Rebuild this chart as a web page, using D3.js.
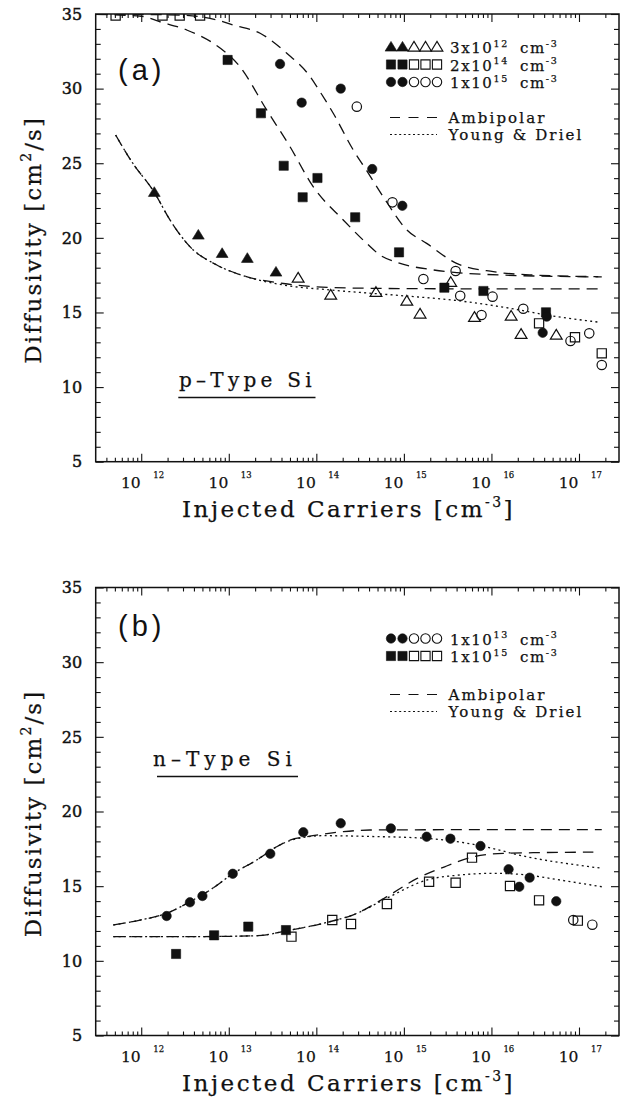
<!DOCTYPE html>
<html>
<head>
<meta charset="utf-8">
<title>Diffusivity vs. injected carriers in Si</title>
<script src="https://cdn.jsdelivr.net/npm/d3@7/dist/d3.min.js"></script>
<style>
  html, body { margin: 0; padding: 0; background: #fff; }
  svg { display: block; }
  text { font-family: "DejaVu Serif", serif; fill: #111; stroke: #111; stroke-width: 0.25px; }
</style>
</head>
<body>
<svg id="chart" width="623" height="1099"></svg>
<script>
// ---------------- data: [injected carriers cm^-3, diffusivity cm^2/s] ----------------
const xTickExponents = [12, 13, 14, 15, 16, 17];
const yTickValues = [5, 10, 15, 20, 25, 30, 35];

// (a) p-type Si, doping 3e12 (triangles), 2e14 (squares), 1e15 (circles)
const aTriFilled = [[1.41e12, 23.05], [4.49e12, 20.19], [8.4e12, 18.96], [1.63e13, 18.63], [3.46e13, 17.71]];
const aTriOpen = [[6.2e13, 17.31], [1.46e14, 16.17], [4.8e14, 16.35], [1.08e15, 15.77], [1.53e15, 14.90],
  [3.43e15, 17.02], [6.4e15, 14.68], [1.68e16, 14.76], [2.18e16, 13.54], [5.5e16, 13.49]];
const aSqFilled = [[9.7e12, 31.92], [2.33e13, 28.35], [4.24e13, 24.83], [6.98e13, 22.72], [1.03e14, 24.01],
  [2.78e14, 21.38], [8.8e14, 19.03], [2.9e15, 16.66], [8.1e15, 16.44], [4.2e16, 15.01]];
const aSqOpen = [[5.1e11, 34.9], [1.75e12, 34.9], [2.75e12, 34.9], [4.7e12, 34.9],
  [3.5e16, 14.27], [9.0e16, 13.34], [1.82e17, 12.26]];
const aCircFilled = [[3.85e13, 31.65], [6.8e13, 29.06], [1.9e14, 30.0], [4.35e14, 24.61], [9.6e14, 22.15],
  [4.28e16, 14.72], [3.85e16, 13.64]];
const aCircOpen = [[2.9e14, 28.79], [7.4e14, 22.38], [1.67e15, 17.24], [3.9e15, 17.78], [4.4e15, 16.12],
  [1.03e16, 16.06], [7.7e15, 14.83], [2.31e16, 15.25], [8.0e16, 13.09], [1.31e17, 13.60], [1.82e17, 11.48]];

// (a) model curves
const aAmbi3e12 = [[5.1e11, 26.89], [7.8e11, 25.10], [1.41e12, 23.05], [2.13e12, 21.20], [3.6e12, 19.41],
  [7.3e12, 18.18], [1.47e13, 17.46], [4.2e13, 16.94], [1.43e14, 16.67], [1e15, 16.6], [1e16, 16.58], [1.82e17, 16.58]];
const aYD3e12 = [[5.1e11, 26.89], [7.8e11, 25.10], [1.41e12, 23.05], [2.13e12, 21.20], [3.6e12, 19.41],
  [7.3e12, 18.18], [1.47e13, 17.46], [4.2e13, 16.84], [1.43e14, 16.51], [7.6e14, 16.17], [4.4e15, 15.77],
  [1.63e16, 15.28], [4.28e16, 14.83], [1.74e17, 14.34]];
const aAmbi2e14 = [[3.1e11, 34.97], [1.0e12, 34.85], [1.64e12, 34.48], [3.3e12, 33.93], [6.65e12, 33.04],
  [1.34e13, 31.47], [2.71e13, 28.57], [5.0e13, 26.11], [9.2e13, 23.43], [2.03e14, 21.20], [3.76e14, 19.63],
  [5.33e14, 18.85], [8.3e14, 18.36], [2.17e15, 17.85], [1.26e16, 17.51], [1.82e17, 17.38]];
const aAmbi1e15 = [[3.1e11, 34.99], [2.77e12, 34.93], [7.3e12, 34.60], [1.12e13, 34.26], [2.28e13, 33.71],
  [4.6e13, 32.37], [8.5e13, 30.8], [1.1e14, 29.8], [1.56e14, 28.35], [2.64e14, 25.89], [3.76e14, 24.5],
  [5.8e14, 22.76], [1.08e15, 20.53], [1.82e15, 19.63], [4.0e15, 18.29], [1.05e16, 17.73], [3.0e16, 17.51],
  [1.66e17, 17.40]];

// (b) n-type Si, doping 1e13 (circles), 1e15 (squares)
const bCircFilled = [[1.95e12, 13.0], [3.6e12, 13.92], [5.0e12, 14.34], [1.11e13, 15.83], [2.98e13, 17.17],
  [7.1e13, 18.61], [1.9e14, 19.21], [7.1e14, 18.87], [1.82e15, 18.31], [3.4e15, 18.18], [7.5e15, 17.69],
  [1.57e16, 16.13], [2.73e16, 15.57], [2.08e16, 14.96], [5.5e16, 13.99]];
const bCircOpen = [[8.6e16, 12.73], [1.42e17, 12.42]];
const bSqFilled = [[2.5e12, 10.46], [6.8e12, 11.71], [1.67e13, 12.29], [4.5e13, 12.06]];
const bSqOpen = [[5.2e13, 11.62], [1.52e14, 12.73], [2.49e14, 12.47], [6.4e14, 13.81], [1.94e15, 15.30],
  [3.9e15, 15.23], [6.0e15, 16.91], [1.63e16, 15.01], [3.5e16, 14.05], [9.7e16, 12.69]];

// (b) model curves
const bAmbi1e13 = [[4.8e11, 12.40], [9.7e11, 12.73], [1.95e12, 13.18], [3.6e12, 13.96], [6.1e12, 14.74],
  [1.13e13, 15.86], [2.08e13, 16.75], [3.52e13, 17.64], [5.0e13, 18.09], [7.8e13, 18.31], [2.03e14, 18.65],
  [4.1e14, 18.76], [3.4e15, 18.78], [1.82e17, 18.78]];
const bYD1e13 = [[4.8e11, 12.40], [9.7e11, 12.73], [1.95e12, 13.18], [3.6e12, 13.96], [6.1e12, 14.74],
  [1.13e13, 15.86], [2.08e13, 16.75], [3.52e13, 17.64], [5.0e13, 18.05], [1.2e14, 18.38], [4.1e14, 18.33],
  [1.82e15, 18.2], [6.8e15, 17.76], [2.53e16, 16.97], [1.82e17, 16.20]];
const bAmbi1e15 = [[4.8e11, 11.62], [3.6e12, 11.62], [2.08e13, 11.68], [5.0e13, 12.06], [1.2e14, 12.51],
  [2.9e14, 13.18], [6.4e14, 14.3], [1.4e15, 15.5], [3.08e15, 16.35], [6.2e15, 16.97], [1.37e16, 17.2],
  [3.0e16, 17.24], [1.46e17, 17.28]];
const bYD1e15 = [[4.8e11, 11.62], [3.6e12, 11.62], [2.08e13, 11.68], [5.0e13, 12.06], [1.2e14, 12.51],
  [2.9e14, 13.18], [6.4e14, 14.2], [1.82e15, 15.41], [4.4e15, 15.75], [1.05e16, 15.86], [2.53e16, 15.75],
  [6.1e16, 15.41], [1.82e17, 14.96]];

// legend entries
const aLegendRows = [
  { shape: "tri", mant: "3x10", exp: "12" },
  { shape: "sq", mant: "2x10", exp: "14" },
  { shape: "circ", mant: "1x10", exp: "15" }
];
const bLegendRows = [
  { shape: "circ", mant: "1x10", exp: "13" },
  { shape: "sq", mant: "1x10", exp: "15" }
];

// ---------------- drawing ----------------
const ink = "#111";
const svg = d3.select("#chart");
const x = d3.scaleLog().domain([Math.pow(10, 11.48), Math.pow(10, 17.457)]).range([95.7, 619]);
const [x0, x1] = x.range();

const dashAmbi = "11,7";
const dashYD = "2,3.3";

function markerPath(shape) {
  if (shape === "tri") return "M0,-5.6L5.9,4.1L-5.9,4.1Z";
  if (shape === "sq") return "M-4.6,-4.6H4.6V4.6H-4.6Z";
  return d3.symbol(d3.symbolCircle, Math.PI * 4.7 * 4.7)();
}

function fitWidth(sel, target) {
  const node = sel.node();
  const n = node.getNumberOfChars();
  const w = node.getComputedTextLength();
  if (n > 1) sel.attr("letter-spacing", ((target - w) / n).toFixed(2));
}

function drawPanel(p) {
  const y = d3.scaleLinear().domain([5, 35]).range([p.bottom, p.top]);
  const g = svg.append("g");
  const clipId = "clip-" + p.id;
  svg.append("clipPath").attr("id", clipId).append("rect")
    .attr("x", x0).attr("y", p.top).attr("width", x1 - x0).attr("height", p.bottom - p.top);

  // axes: ticks point inward on all four sides
  const majors = xTickExponents.map(e => Math.pow(10, e));
  const minors = [];
  for (let e = 11; e <= 17; e++) for (let m = 2; m <= 9; m++) {
    const v = m * Math.pow(10, e);
    if (v > x.domain()[0] && v < x.domain()[1]) minors.push(v);
  }
  const yMinor = d3.range(6, 35).filter(v => v % 5 !== 0);
  const styleAxis = sel => {
    sel.select(".domain").remove();
    sel.selectAll("line").attr("stroke", ink).attr("stroke-width", 1.1);
  };
  g.append("g").attr("transform", `translate(0,${p.bottom})`)
    .call(d3.axisBottom(x).tickValues(majors).tickSize(-8).tickFormat("")).call(styleAxis);
  g.append("g").attr("transform", `translate(0,${p.bottom})`)
    .call(d3.axisBottom(x).tickValues(minors).tickSize(-4).tickFormat("")).call(styleAxis);
  g.append("g").attr("transform", `translate(0,${p.top})`)
    .call(d3.axisTop(x).tickValues(majors).tickSize(-8).tickFormat("")).call(styleAxis);
  g.append("g").attr("transform", `translate(0,${p.top})`)
    .call(d3.axisTop(x).tickValues(minors).tickSize(-4).tickFormat("")).call(styleAxis);
  g.append("g").attr("transform", `translate(${x0},0)`)
    .call(d3.axisLeft(y).tickValues(yTickValues).tickSize(-8).tickFormat("")).call(styleAxis);
  g.append("g").attr("transform", `translate(${x0},0)`)
    .call(d3.axisLeft(y).tickValues(yMinor).tickSize(-5).tickFormat("")).call(styleAxis);
  g.append("g").attr("transform", `translate(${x1},0)`)
    .call(d3.axisRight(y).tickValues(yTickValues).tickSize(-8).tickFormat("")).call(styleAxis);
  g.append("g").attr("transform", `translate(${x1},0)`)
    .call(d3.axisRight(y).tickValues(yMinor).tickSize(-5).tickFormat("")).call(styleAxis);

  g.append("rect").attr("x", x0).attr("y", p.top).attr("width", x1 - x0).attr("height", p.bottom - p.top)
    .attr("fill", "none").attr("stroke", ink).attr("stroke-width", 1.5);

  // tick labels
  g.selectAll(".ylab").data(yTickValues).join("text")
    .attr("x", x0 - 13.5).attr("y", d => y(d)).attr("dy", "0.36em")
    .attr("text-anchor", "end").attr("font-size", 16).style("stroke-width", "0.45px").text(d => d);
  xTickExponents.forEach(e => {
    const tx = x(Math.pow(10, e));
    g.append("text").attr("x", tx - 0.5).attr("y", p.bottom + 26.6)
      .attr("text-anchor", "end").attr("font-size", 15.5).text("10");
    g.append("text").attr("x", tx + 12).attr("y", p.bottom + 16.6)
      .attr("font-size", 8.5).text(e);
  });

  // axis titles
  const xt = g.append("text").attr("x", 182).attr("y", p.bottom + 55).attr("font-size", 23);
  xt.append("tspan").text("Injected Carriers [cm");
  xt.append("tspan").attr("dy", -10).attr("font-size", 14).text("-3");
  xt.append("tspan").attr("dy", 10).text("]");
  fitWidth(xt, 333);

  const yt = g.append("text").attr("transform", `translate(41,${(p.top + p.bottom) / 2 + 2}) rotate(-90)`)
    .attr("text-anchor", "middle").attr("font-size", 23);
  yt.append("tspan").text("Diffusivity [cm");
  yt.append("tspan").attr("dy", -10).attr("font-size", 14).text("2");
  yt.append("tspan").attr("dy", 10).text("/s]");
  fitWidth(yt, 247);

  // panel tag and sample type
  g.append("text").attr("x", 118).attr("y", p.tagBaseline)
    .style("font-family", "'Liberation Sans', Arial, sans-serif").style("stroke-width", "0px")
    .attr("font-size", 29).attr("letter-spacing", 4).text(p.tag);
  const tt = g.append("text").attr("x", p.typeX).attr("y", p.typeBaseline).attr("font-size", 20).text(p.typeText);
  fitWidth(tt, p.typeWidth);
  g.append("line").attr("x1", p.ulX1).attr("x2", p.ulX2).attr("y1", p.ulY).attr("y2", p.ulY)
    .attr("stroke", ink).attr("stroke-width", 1.4);

  // model curves
  const line = d3.line().x(d => x(d[0])).y(d => y(d[1])).curve(d3.curveMonotoneX);
  const plot = g.append("g").attr("clip-path", `url(#${clipId})`);
  p.curves.forEach(c => {
    plot.append("path").attr("d", line(c.data)).attr("fill", "none").attr("stroke", ink)
      .attr("stroke-width", 1.3).attr("stroke-dasharray", c.kind === "ambi" ? dashAmbi : dashYD);
  });

  // measured points
  p.points.forEach(s => {
    plot.selectAll(null).data(s.data).join("path")
      .attr("transform", d => `translate(${x(d[0])},${y(d[1])})`)
      .attr("d", markerPath(s.shape))
      .attr("fill", s.filled ? ink : "none")
      .attr("stroke", ink).attr("stroke-width", s.filled ? 0.6 : 1.2);
  });

  // legend
  const lg = g.append("g");
  p.legend.forEach((r, i) => {
    const cy = p.legTop + i * p.legStep;
    [391, 402.5, 414, 425.5, 437].forEach((mx, k) => {
      lg.append("path").attr("transform", `translate(${mx},${cy})`).attr("d", markerPath(r.shape))
        .attr("fill", k < 2 ? ink : "none").attr("stroke", ink).attr("stroke-width", k < 2 ? 0.6 : 1.1);
    });
    const base = cy + 6;
    const t = lg.append("text").attr("x", 450).attr("y", base).attr("font-size", 15);
    t.append("tspan").text(r.mant);
    t.append("tspan").attr("dy", -6.5).attr("font-size", 9.5).text(r.exp);
    t.append("tspan").attr("x", 520).attr("dy", 6.5).text("cm");
    t.append("tspan").attr("dy", -6.5).attr("font-size", 9.5).text("-3");
    t.attr("letter-spacing", 1.6);
  });
  const lines = [{ kind: "ambi", label: "Ambipolar", w: 98 }, { kind: "yd", label: "Young & Driel", w: 135 }];
  lines.forEach((l, i) => {
    const ly = p.keyTop + i * 17;
    lg.append("line").attr("x1", 390).attr("x2", 437).attr("y1", ly).attr("y2", ly)
      .attr("stroke", ink).attr("stroke-width", 1.2)
      .attr("stroke-dasharray", l.kind === "ambi" ? "10,8.5" : "2,2.6");
    const t = lg.append("text").attr("x", 448.5).attr("y", ly + 5.5).attr("font-size", 15).text(l.label);
    fitWidth(t, l.w);
  });
}

drawPanel({
  id: "a", top: 14, bottom: 461.7, tag: "(a)", tagBaseline: 80,
  typeText: "p\u2013Type Si", typeX: 179, typeBaseline: 387, typeWidth: 137,
  ulX1: 178.3, ulX2: 315.5, ulY: 397.5,
  legend: aLegendRows, legTop: 47, legStep: 17.5, keyTop: 117.5,
  curves: [
    { kind: "ambi", data: aAmbi3e12 }, { kind: "yd", data: aYD3e12 },
    { kind: "ambi", data: aAmbi2e14 }, { kind: "ambi", data: aAmbi1e15 }
  ],
  points: [
    { shape: "tri", filled: true, data: aTriFilled }, { shape: "tri", filled: false, data: aTriOpen },
    { shape: "sq", filled: true, data: aSqFilled }, { shape: "sq", filled: false, data: aSqOpen },
    { shape: "circ", filled: true, data: aCircFilled }, { shape: "circ", filled: false, data: aCircOpen }
  ]
});

drawPanel({
  id: "b", top: 587.5, bottom: 1035.5, tag: "(b)", tagBaseline: 636,
  typeText: "n\u2013Type Si", typeX: 153, typeBaseline: 766, typeWidth: 144,
  ulX1: 157, ulX2: 298, ulY: 776.5,
  legend: bLegendRows, legTop: 638.5, legStep: 17.5, keyTop: 694.5,
  curves: [
    { kind: "ambi", data: bAmbi1e13 }, { kind: "yd", data: bYD1e13 },
    { kind: "ambi", data: bAmbi1e15 }, { kind: "yd", data: bYD1e15 }
  ],
  points: [
    { shape: "circ", filled: true, data: bCircFilled }, { shape: "circ", filled: false, data: bCircOpen },
    { shape: "sq", filled: true, data: bSqFilled }, { shape: "sq", filled: false, data: bSqOpen }
  ]
});
</script>
</body>
</html>
